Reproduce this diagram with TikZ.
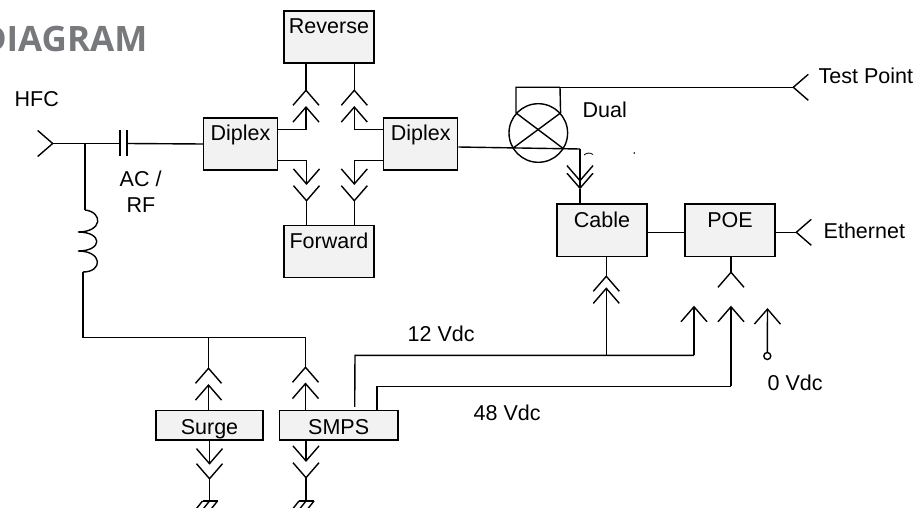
\documentclass[tikz,border=0pt]{standalone}
\usepackage{fontspec}
\setmainfont{Liberation Sans}
\newfontfamily\titlefont{Open Sans}
\usetikzlibrary{arrows.meta}
\definecolor{boxgray}{HTML}{F2F2F2}
\definecolor{titlegray}{HTML}{77797C}

\begin{document}
\begin{tikzpicture}[x=1pt,y=-1pt,line width=1.4pt,
    every node/.style={font=\fontsize{21.5}{25}\selectfont},
    box/.style={draw, fill=boxgray, minimum width=90pt, inner xsep=0pt, inner ysep=8pt, text height=15pt, text depth=21pt},
    slimbox/.style={draw, fill=boxgray, inner xsep=0pt, inner ysep=0pt, text height=23.5pt, text depth=6pt},
    txt/.style={anchor=base west, inner sep=0pt},
    plug/.style={-{Straight Barb[length=15pt,width=26pt]}},
    socket/.style={-{Straight Barb[reversed,length=15pt,width=26pt]}}]
   \clip (0,0) rectangle (919,508);
   \node[anchor=base east, inner sep=0pt, text=titlegray, font=\titlefont\bfseries\fontsize{35}{40}\selectfont] (title) at (148,52) {DIAGRAM};

   \node[box] (reverse) at (329,37) {Reverse};
   \node[box] (forward) at (329,251.7) {Forward};
   \node[box, minimum width=74pt] (diplexL) at (240.5,144) {Diplex};
   \node[box, minimum width=74pt] (diplexR) at (420.7,144) {Diplex};
   \node[box] (cable) at (602,230.2) {Cable};
   \node[box] (poe) at (730,230.2) {POE};
   \node[slimbox, minimum width=107pt] (surge) at (209.5,425.3) {Surge};
   \node[slimbox, minimum width=118.5pt] (smps) at (338.7,425.3) {SMPS};
   \node[draw, circle, minimum size=58.6pt, inner sep=0pt] (mixer) at (538.3,133) {};

   \node[txt] (hfcText) at (14,107) {HFC};
   \node[txt] (acText) at (119,186) {AC /};
   \node[txt] (rfText) at (126,213) {RF};
   \node[txt] (dualText) at (582,118) {Dual};
   \node[txt] (testText) at (818,84) {Test Point};
   \node[txt] (ethText) at (823,238.5) {Ethernet};
   \node[txt] (vTwelve) at (407,341) {12 Vdc};
   \node[txt] (vFortyEight) at (473,420) {48 Vdc};
   \node[txt] (vZero) at (767,390) {0 Vdc};

   % HFC input
   \coordinate (hfcEnd) at (37,143.5);
   \coordinate (capL) at (120,143.5);
   \coordinate (capR) at (127,143.5);
   \coordinate (tee) at (85,143.5);
   \coordinate (coilTop) at (85,210);
   \coordinate (coilBot) at (83,272);
   \coordinate (busL) at (83,337.5);
   \coordinate (busSurge) at (208.5,337.5);
   \coordinate (busSmps) at (305.5,337.5);
   \draw[socket] (capL) to (hfcEnd);
   \draw (capL) ++(0,-13) -- ++(0,26);
   \draw (capR) ++(0,-13) -- ++(0,26);
   \draw (capR) to (diplexL.west);
   \draw (tee) to (coilTop);
   \draw (coilTop) .. controls (103,212) and (103,232) .. (78,232) .. controls (103,232) and (103,251) .. (78,251) .. controls (103,251) and (103,272) .. (coilBot);
   \draw (coilBot) -- (busL) -- (busSmps);

   % Diplex to Reverse and Forward
   \coordinate (revL) at (306,106);
   \coordinate (revR) at (354.3,106);
   \coordinate (fwdL) at (306.5,185);
   \coordinate (fwdR) at (354.3,185);
   \draw[plug] ([yshift=14.7pt]diplexL.east) -| (revL);
   \draw[socket] (reverse.south -| revL) to (revL);
   \draw[plug] ([yshift=14.7pt]diplexR.west) -| (revR);
   \draw[socket] (reverse.south -| revR) to (revR);
   \draw[plug] ([yshift=-16.3pt]diplexL.east) -| (fwdL);
   \draw[socket] (forward.north -| fwdL) to (fwdL);
   \draw[plug] ([yshift=-16.3pt]diplexR.west) -| (fwdR);
   \draw[socket] (forward.north -| fwdR) to (fwdR);

   % Dual coupler
   \coordinate (testL) at (516,87.3);
   \coordinate (testR) at (560,87.3);
   \coordinate (testEnd) at (809,87.3);
   \coordinate (coupOut) at (580,149);
   \coordinate (cableIn) at (580,189.3);
   \draw (mixer.138) to (mixer.-32);
   \draw (mixer.42) to (mixer.211);
   \draw (mixer.138) -- (testL) -- (testR);
   \draw (mixer.42) -- (testR);
   \draw[socket] (testR) -- (testEnd);
   \draw ([yshift=-3pt]diplexR.east) -- (coupOut);
   \draw[plug] (coupOut) -- (cableIn);
   \draw[plug] (coupOut) -- (580,181.7);
   \draw (cableIn) to (cable.north -| cableIn);
   \draw[line width=.8pt] (584,155) .. controls (587,152.5) and (590,152.5) .. (593,154.5);
   \fill (634.3,153) circle (.9pt);

   % Cable, POE, Ethernet
   \coordinate (ethEnd) at (812,232.3);
   \draw (cable.east |- ethEnd) to (poe.west |- ethEnd);
   \draw[socket] (poe.east |- ethEnd) to (ethEnd);
   \coordinate (cableV) at (606.3,355.3);
   \coordinate (poeTwelve) at (694,355.3);
   \coordinate (poeFortyEight) at (731,386.3);
   \coordinate (zeroTip) at (767.5,308);
   \draw[socket] (cable.south -| cableV) to (606.3,292);
   \draw[plug] (cableV) to (606.3,287.3);
   \draw[socket] (poe.south -| poeFortyEight) to (731,288);
   \draw[plug] (poeTwelve) to (694,305.7);
   \draw[plug] (poeFortyEight) to (731,305.7);
   \node[draw, circle, fill=white, minimum size=7pt, inner sep=0pt] (zeroDot) at (767.3,356) {};
   \draw[plug] (zeroDot) to (zeroTip);

   % SMPS outputs
   \coordinate (twelveBend) at (355,355.3);
   \coordinate (fortyBend) at (377,386.3);
   \draw ([xshift=16pt,yshift=3pt]smps.north) -- (twelveBend) -- (poeTwelve);
   \draw (smps.north -| fortyBend) -- (fortyBend) -- (poeFortyEight);

   % Surge and SMPS
   \coordinate (gndSurge) at (209.5,501);
   \coordinate (gndSmps) at (306,501);
   \draw[socket] (busSurge) to (208.5,384);
   \draw[plug] (surge.north -| busSurge) to (208.5,384);
   \draw[socket] (busSmps) to (305.5,383);
   \draw[plug] (smps.north -| busSmps) to (305.5,382.5);
   \draw[plug] (surge.south -| gndSurge) to (209.5,464.7);
   \draw[socket] (gndSurge) to (209.5,463);
   \draw[plug] (smps.south -| gndSmps) to (306,462);
   \draw[socket] (gndSmps) to (306,462);
   \foreach \g in {gndSurge,gndSmps} {
     \draw (\g) ++(-7,0) -- ++(15,0);
     \draw (\g) ++(-7,0) -- ++(-8,10);
     \draw (\g) ++(0,0) -- ++(-8,10);
     \draw (\g) ++(8,0) -- ++(-8,10);
   }
 \end{tikzpicture}
\end{document}
